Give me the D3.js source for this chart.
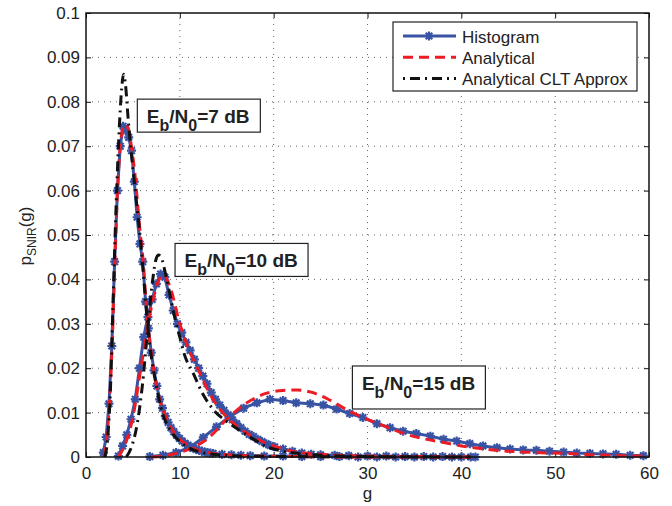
<!DOCTYPE html>
<html>
<head>
<meta charset="utf-8">
<script src="https://cdn.jsdelivr.net/npm/d3@7/dist/d3.min.js"></script>
<style>
body { margin: 0; background: #fff; }
svg text { font-family: "Liberation Sans", Arial, sans-serif; fill: #222; }
</style>
</head>
<body>
<svg width="672" height="506"></svg>
<script>
// Tick values
var xTicks = [0, 10, 20, 30, 40, 50, 60];
var yTicks = [0, 0.01, 0.02, 0.03, 0.04, 0.05, 0.06, 0.07, 0.08, 0.09, 0.1];
var yTickLabels = ["0", "0.01", "0.02", "0.03", "0.04", "0.05", "0.06", "0.07", "0.08", "0.09", "0.1"];

// Eb/N0 = 7 dB
var hist7G = [1.85, 2.15, 2.45, 2.75, 3.05, 3.35, 3.65, 3.95, 4.25, 4.55, 4.85, 5.15, 5.45, 5.75, 6.05, 6.35, 6.65, 6.95, 7.25, 7.55, 7.85, 8.15, 8.45, 8.75, 9.05, 9.35, 9.65, 9.95, 10.25, 10.55, 10.85, 11.15, 11.45, 11.75, 12.05, 12.35, 12.65, 12.95, 13.25, 13.55, 14.5, 15.5, 16.5, 17.5, 19, 21, 23, 25, 27, 29, 31, 33, 35, 37, 39, 41];
var hist7P = [0.0010, 0.0045, 0.0120, 0.0250, 0.0440, 0.0600, 0.0700, 0.0745, 0.0735, 0.0720, 0.0690, 0.0620, 0.0540, 0.0480, 0.0440, 0.0350, 0.0290, 0.0235, 0.0195, 0.0160, 0.0130, 0.0110, 0.0092, 0.0078, 0.0066, 0.0057, 0.0049, 0.0042, 0.0036, 0.0031, 0.0027, 0.0023, 0.0020, 0.0017, 0.0015, 0.0013, 0.0011, 0.0010, 0.0009, 0.0008, 0.0006, 0.0005, 0.0004, 0.0003, 0.0002, 0.0002, 0.0001, 0.0001, 0.0001, 0, 0, 0, 0, 0, 0, 0];
var anal7G = [1.9, 2.2, 2.5, 2.8, 3.1, 3.4, 3.7, 4.0, 4.3, 4.6, 4.9, 5.2, 5.5, 5.8, 6.1, 6.4, 6.8, 7.2, 7.6, 8, 9, 10, 11, 12, 13.5, 15, 18, 22, 30, 41];
var anal7P = [0, 0.004, 0.012, 0.026, 0.045, 0.062, 0.071, 0.0745, 0.0748, 0.073, 0.069, 0.064, 0.057, 0.050, 0.044, 0.035, 0.026, 0.020, 0.015, 0.012, 0.0068, 0.004, 0.0025, 0.0015, 0.0008, 0.0005, 0.0002, 0.0001, 0, 0];
var clt7G = [2.0, 2.3, 2.6, 2.9, 3.2, 3.5, 3.8, 4.0, 4.2, 4.5, 4.8, 5.1, 5.4, 5.8, 6.2, 6.6, 7.0, 7.5, 8, 9, 10, 11, 12, 14, 17, 22, 41];
var clt7P = [0, 0.004, 0.015, 0.036, 0.056, 0.072, 0.083, 0.0862, 0.084, 0.076, 0.069, 0.063, 0.057, 0.049, 0.039, 0.029, 0.022, 0.016, 0.011, 0.006, 0.0035, 0.002, 0.0012, 0.0005, 0.0002, 0.0001, 0];

// Eb/N0 = 10 dB
var hist10G = [3.45, 3.9, 4.35, 4.8, 5.25, 5.7, 6.15, 6.6, 7.05, 7.5, 7.95, 8.4, 8.85, 9.3, 9.75, 10.2, 10.65, 11.1, 11.55, 12.0, 12.45, 12.9, 13.35, 13.8, 14.25, 14.7, 15.15, 15.6, 16.05, 16.5, 16.95, 17.4, 17.85, 18.3, 18.75, 19.2, 19.65, 20.1, 21, 22, 23, 24, 25, 26.5, 28, 30, 32, 34, 36, 38, 40, 41.5];
var hist10P = [0.0002, 0.0025, 0.0050, 0.0085, 0.0130, 0.0200, 0.0270, 0.0315, 0.0355, 0.0390, 0.0412, 0.0405, 0.0365, 0.0330, 0.0300, 0.0280, 0.0258, 0.0240, 0.0220, 0.0200, 0.0182, 0.0165, 0.0145, 0.0130, 0.0117, 0.0105, 0.0095, 0.0084, 0.0075, 0.0066, 0.0058, 0.0051, 0.0046, 0.0040, 0.0035, 0.0030, 0.0026, 0.0023, 0.0018, 0.0013, 0.0009, 0.0006, 0.0005, 0.0004, 0.0003, 0.0002, 0.0002, 0.0001, 0.0001, 0.0001, 0, 0];
var anal10G = [3.4, 4, 5, 6, 7, 7.8, 8.3, 9, 10, 11, 12, 13, 14, 15, 16.5, 18, 20, 22, 25, 30, 35, 41];
var anal10P = [0, 0.002, 0.009, 0.022, 0.034, 0.040, 0.041, 0.038, 0.030, 0.024, 0.0195, 0.015, 0.0115, 0.009, 0.0063, 0.0043, 0.0025, 0.0013, 0.0006, 0.0002, 0.0001, 0];
var clt10G = [4.3, 4.8, 5.5, 6.0, 6.5, 7.0, 7.4, 7.7, 8.0, 8.5, 9, 9.5, 10, 10.5, 11.4, 12.5, 13.6, 15, 16.4, 18, 19.3, 21, 23, 26, 30, 41];
var clt10P = [0, 0.002, 0.008, 0.016, 0.027, 0.038, 0.044, 0.0455, 0.045, 0.041, 0.036, 0.031, 0.027, 0.023, 0.019, 0.014, 0.0106, 0.008, 0.006, 0.0038, 0.0023, 0.0013, 0.0007, 0.0003, 0.0001, 0];

// Eb/N0 = 15 dB
var hist15G = [6.8, 8.2, 9.6, 11.1, 12.5, 13.9, 15.3, 16.8, 18.2, 19.6, 21.0, 22.4, 23.9, 25.3, 26.7, 28.1, 29.5, 31.0, 32.4, 33.8, 35.2, 36.7, 38.1, 39.5, 40.9, 42.3, 43.8, 45.2, 46.6, 48.0, 49.4, 50.9, 52.3, 53.7, 55.1, 56.5, 58.0, 59.4];
var hist15P = [0.0001, 0.0004, 0.0010, 0.0022, 0.0044, 0.0068, 0.0091, 0.0110, 0.0122, 0.0130, 0.0127, 0.0122, 0.0120, 0.0117, 0.0108, 0.0098, 0.0089, 0.0075, 0.0066, 0.0058, 0.0053, 0.0047, 0.0040, 0.0036, 0.0030, 0.0025, 0.0021, 0.0018, 0.0016, 0.0015, 0.0013, 0.0011, 0.0009, 0.0008, 0.0007, 0.0006, 0.0004, 0.0003];
var anal15G = [7, 9, 11, 13, 15, 17, 19, 21, 22.5, 24, 26, 28, 30, 32, 34, 36, 38, 40, 42, 45, 48, 51, 54, 57, 60];
var anal15P = [0, 0.0005, 0.0018, 0.0042, 0.0085, 0.0120, 0.0142, 0.0150, 0.0151, 0.0146, 0.0128, 0.0104, 0.0085, 0.0068, 0.0052, 0.0041, 0.0033, 0.0025, 0.0019, 0.0013, 0.0010, 0.0008, 0.0005, 0.0003, 0.0001];

var legendLabels = ["Histogram", "Analytical", "Analytical CLT Approx"];
var noteLevels = ["7", "10", "15"];

var svg = d3.select("svg"),
    width = +svg.attr("width"),
    height = +svg.attr("height");

var blue = "#3953a4", red = "#ec1c24", black = "#111";

// Scales
var x = d3.scaleLinear().domain([0, 60]).range([86, 649]);
var y = d3.scaleLinear().domain([0, 0.1]).range([457, 13]);

function pts(gs, ps) { return gs.map(function (g, i) { return [g, ps[i]]; }); }

// Grid
var grid = svg.append("g").attr("stroke", "#666").attr("stroke-width", 1).attr("stroke-dasharray", "1,5");
grid.selectAll(".gx").data(xTicks.slice(1, -1)).enter().append("line")
    .attr("x1", function (d) { return x(d); }).attr("x2", function (d) { return x(d); })
    .attr("y1", y(0)).attr("y2", y(0.1));
grid.selectAll(".gy").data(yTicks.slice(1, -1)).enter().append("line")
    .attr("y1", function (d) { return y(d); }).attr("y2", function (d) { return y(d); })
    .attr("x1", x(0)).attr("x2", x(60));

// Axes (ticks inside, like matlab)
function styleAxis(g) {
    g.attr("font-size", 17).attr("font-family", "Liberation Sans, Arial, sans-serif");
    g.select(".domain").remove();
    g.selectAll(".tick line").attr("stroke", "#111");
    g.selectAll(".tick text").attr("fill", "#222");
}
svg.append("g").attr("transform", "translate(0," + y(0) + ")")
    .call(d3.axisBottom(x).tickValues(xTicks).tickSize(-5).tickPadding(10))
    .call(styleAxis);
svg.append("g").attr("transform", "translate(" + x(0) + ",0)")
    .call(d3.axisLeft(y).tickValues(yTicks).tickSize(-5).tickPadding(6)
        .tickFormat(function (d, i) { return yTickLabels[i]; }))
    .call(styleAxis);
svg.append("g").attr("transform", "translate(0," + y(0.1) + ")")
    .call(d3.axisTop(x).tickValues(xTicks).tickSize(-5).tickFormat(""))
    .call(styleAxis);
svg.append("g").attr("transform", "translate(" + x(60) + ",0)")
    .call(d3.axisRight(y).tickValues(yTicks).tickSize(-5).tickFormat(""))
    .call(styleAxis);

// Lines
var lineLin = d3.line().x(function (d) { return x(d[0]); }).y(function (d) { return y(d[1]); });
var lineSmooth = d3.line().x(function (d) { return x(d[0]); }).y(function (d) { return y(d[1]); })
    .curve(d3.curveMonotoneX);

var star = "M-4.5,0L4.5,0M0,-4.5L0,4.5M-3.3,-3.3L3.3,3.3M-3.3,3.3L3.3,-3.3";

var hists = [pts(hist7G, hist7P), pts(hist10G, hist10P), pts(hist15G, hist15P)];
var anals = [pts(anal7G, anal7P), pts(anal10G, anal10P), pts(anal15G, anal15P)];
var clts = [pts(clt7G, clt7P), pts(clt10G, clt10P)];

hists.forEach(function (h) {
    svg.append("path").datum(h).attr("d", lineLin)
        .attr("fill", "none").attr("stroke", blue).attr("stroke-width", 3);
    svg.append("g").selectAll("path").data(h).enter().append("path")
        .attr("transform", function (d) { return "translate(" + x(d[0]) + "," + y(d[1]) + ")"; })
        .attr("d", star).attr("fill", "none").attr("stroke", blue).attr("stroke-width", 2.2);
});
anals.forEach(function (a) {
    svg.append("path").datum(a).attr("d", lineSmooth)
        .attr("fill", "none").attr("stroke", red).attr("stroke-width", 3)
        .attr("stroke-dasharray", "10,6");
});
clts.forEach(function (c) {
    svg.append("path").datum(c).attr("d", lineSmooth)
        .attr("fill", "none").attr("stroke", black).attr("stroke-width", 3)
        .attr("stroke-dasharray", "10,5,2,5");
});

// Plot box
svg.append("rect").attr("x", x(0)).attr("y", y(0.1))
    .attr("width", x(60) - x(0)).attr("height", y(0) - y(0.1))
    .attr("fill", "none").attr("stroke", "#111").attr("stroke-width", 1.5);

// Annotation boxes
function addNote(g, p, w, h, level) {
    var n = svg.append("g").attr("transform", "translate(" + x(g) + "," + y(p) + ")");
    n.append("rect").attr("width", w).attr("height", h)
        .attr("fill", "#fff").attr("stroke", "#222").attr("stroke-width", 1.2);
    var t = n.append("text").attr("x", 9.5).attr("y", 24)
        .attr("font-size", 19).attr("font-weight", "bold");
    t.append("tspan").text("E");
    t.append("tspan").attr("dy", 8).attr("font-size", 16).text("b");
    t.append("tspan").attr("dy", -8).text("/N");
    t.append("tspan").attr("dy", 8).attr("font-size", 16).text("0");
    t.append("tspan").attr("dy", -8).text("=" + level + " dB");
}
addNote(5.47, 0.0806, 123, 33, noteLevels[0]);
addNote(9.49, 0.0481, 133, 33, noteLevels[1]);
addNote(28.39, 0.0205, 133, 43, noteLevels[2]);

// Legend
var leg = svg.append("g").attr("transform", "translate(393,22)");
leg.append("rect").attr("width", 244).attr("height", 69)
    .attr("fill", "#fff").attr("stroke", "#222").attr("stroke-width", 1.2);
var legStyles = [
    {stroke: blue, dash: null, w: 3},
    {stroke: red, dash: "10,6", w: 3},
    {stroke: black, dash: "2,5,10,5", w: 3}
];
legendLabels.forEach(function (lab, i) {
    var cy = 14 + i * 21.3;
    leg.append("line").attr("x1", 10).attr("x2", 63).attr("y1", cy).attr("y2", cy)
        .attr("stroke", legStyles[i].stroke).attr("stroke-width", legStyles[i].w)
        .attr("stroke-dasharray", legStyles[i].dash);
    if (i === 0) {
        leg.append("path").attr("transform", "translate(36," + cy + ")")
            .attr("d", star).attr("fill", "none").attr("stroke", blue).attr("stroke-width", 2.2);
    }
    leg.append("text").attr("x", 69).attr("y", cy + 6.5).attr("font-size", 17).text(lab);
});

// Axis labels
svg.append("text").attr("x", (x(0) + x(60)) / 2).attr("y", 499)
    .attr("text-anchor", "middle").attr("font-size", 17).text("g");
var yl = svg.append("text").attr("transform", "translate(31,236) rotate(-90)")
    .attr("text-anchor", "middle").attr("font-size", 17);
yl.append("tspan").text("p");
yl.append("tspan").attr("dy", 5).attr("font-size", 12).text("SNIR");
yl.append("tspan").attr("dy", -5).text("(g)");
</script>
</body>
</html>
